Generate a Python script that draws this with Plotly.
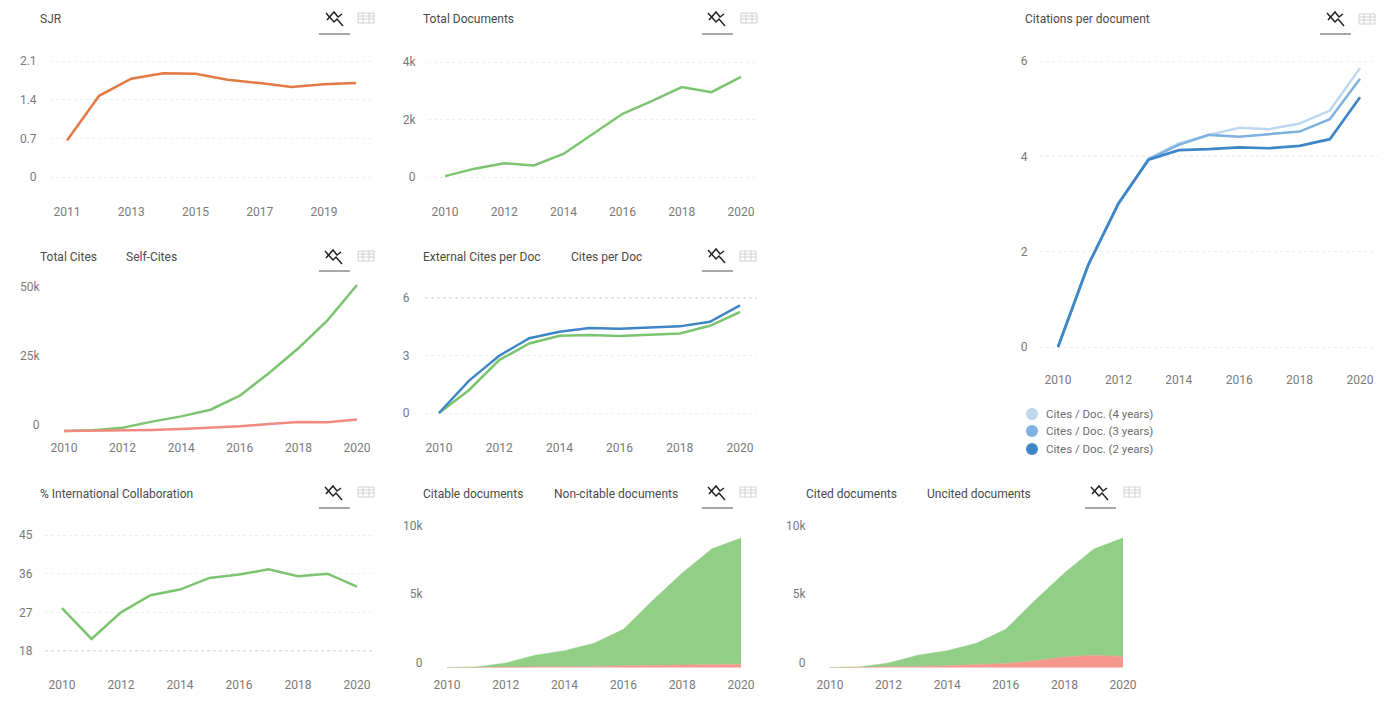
import plotly.graph_objects as go

W, H = 1393, 716
FONT = "Roboto"
TICK = "#7a7a7a"
TITLE = "#4a4a4a"
GREEN = "#7cc46f"
RED = "#f08a80"
ORANGE = "#e37a45"
BLUE2 = "#3f86c6"
BLUE3 = "#7fb1df"
BLUE4 = "#bdd7ef"
FILL_GREEN = "#90cf85"
FILL_RED = "#f5978d"

years = list(range(2010, 2021))
sjr_years = list(range(2011, 2021))
sjr = [0.66, 1.47, 1.78, 1.88, 1.87, 1.76, 1.70, 1.63, 1.68, 1.70]
total_docs = [30, 290, 480, 400, 800, 1500, 2200, 2650, 3130, 2950, 3480]
cites_2y = [0, 1.72, 3.01, 3.93, 4.13, 4.15, 4.19, 4.17, 4.22, 4.36, 5.24]
cites_3y = [0, 1.72, 3.00, 3.94, 4.24, 4.45, 4.41, 4.46, 4.52, 4.78, 5.63]
cites_4y = [0, 1.72, 3.00, 3.95, 4.27, 4.45, 4.60, 4.57, 4.69, 4.96, 5.85]
total_cites = [0, 300, 1200, 3400, 5300, 7700, 12800, 21000, 30000, 40200, 52900]
self_cites = [0, 100, 300, 400, 700, 1200, 1700, 2500, 3300, 3200, 4200]
ext_per_doc = [0, 1.2, 2.76, 3.63, 4.03, 4.07, 4.02, 4.10, 4.15, 4.55, 5.27]
cites_per_doc = [0, 1.69, 2.99, 3.90, 4.24, 4.43, 4.40, 4.45, 4.52, 4.76, 5.62]
intl_collab = [28, 20.8, 27, 31, 32.3, 35, 35.8, 37, 35.4, 36, 33]
all_docs = [0, 40, 330, 900, 1230, 1770, 2800, 4900, 6900, 8650, 9450]
non_citable = [0, 5, 15, 30, 50, 80, 130, 170, 200, 220, 240]
uncited = [0, 10, 40, 80, 120, 200, 300, 500, 770, 900, 800]
citable = [a - b for a, b in zip(all_docs, non_citable)]
cited = [a - b for a, b in zip(all_docs, uncited)]

legend_names = ["Cites / Doc. (4 years)", "Cites / Doc. (3 years)", "Cites / Doc. (2 years)"]
legend_colors = [BLUE4, BLUE3, BLUE2]

fig = go.Figure()
px = lambda x: x / W
py = lambda y: 1 - y / H


def paper_shape(**kw):
    fig.add_shape(xref="paper", yref="paper", **kw)


def text(x, y, s, size=12, color=TITLE):
    fig.add_annotation(x=px(x - 2), y=py(y), xref="paper", yref="paper", text=s, showarrow=False,
                       xanchor="left", yanchor="middle", font=dict(family=FONT, size=size, color=color))


def icons(cx, cy, ux, uy, tx, ty):
    # chart / table toggle
    for pts in ([(-9, -5), (-1, 4), (2, 1), (8, 8)], [(-8, 2), (-1, -6), (3, -1), (7, -4)]):
        d = "M" + " L".join(f"{px(cx + a)},{py(cy + b)}" for a, b in pts)
        paper_shape(type="path", path=d, line=dict(color="#222222", width=1.5))
    paper_shape(type="line", x0=px(ux), x1=px(ux + 31), y0=py(uy), y1=py(uy), line=dict(color="#a8a8a8", width=2))
    c = "#d0d0d0"
    for dy in (-5, -2, 1, 5):
        paper_shape(type="line", x0=px(tx - 8), x1=px(tx + 8), y0=py(ty + dy), y1=py(ty + dy), line=dict(color=c, width=1))
    for dx in (-8, -3, 3, 8):
        paper_shape(type="line", x0=px(tx + dx), x1=px(tx + dx), y0=py(ty - 5), y1=py(ty + 5), line=dict(color=c, width=1))


def panel(n, left, right, top, bottom, xa, xb, ya, yb, yticks, ylabels, xticks, gap, shift=0, dark=()):
    """left..bottom: plot area in pixels; xa/xb, ya/yb: (value, pixel) anchors."""
    sx = (xb[0] - xa[0]) / (xb[1] - xa[1])
    sy = (yb[0] - ya[0]) / (yb[1] - ya[1])
    xr = [xa[0] + (left - xa[1]) * sx, xa[0] + (right - xa[1]) * sx]
    yr = [ya[0] + (bottom - ya[1]) * sy, ya[0] + (top - ya[1]) * sy]
    s = "" if n == 1 else str(n)
    fig.update_layout(**{
        f"xaxis{s}": dict(domain=[px(left), px(right)], range=xr, anchor=f"y{s}", tickmode="array",
                          tickvals=xticks, ticktext=[str(t) for t in xticks], showgrid=False, zeroline=False,
                          showline=False, ticks="", tickfont=dict(family=FONT, size=12, color=TICK)),
        f"yaxis{s}": dict(domain=[py(bottom), py(top)], range=yr, anchor=f"x{s}", tickmode="array",
                          tickvals=yticks, ticktext=ylabels, showgrid=shift == 0, gridcolor="#efefef", griddash="dot",
                          zeroline=False, showline=False, ticks="outside", ticklen=gap, tickcolor="rgba(0,0,0,0)",
                          ticklabelshift=shift, tickfont=dict(family=FONT, size=12, color=TICK)),
    })
    for v in dark:
        fig.add_shape(type="line", xref=f"x{s} domain", yref=f"y{s}", x0=0, x1=1, y0=v, y1=v,
                      line=dict(color="#bdbdbd", width=1, dash="dot"), layer="below")
    return f"x{s}", f"y{s}"


def line(axes, x, y, color, name, width=2.5):
    fig.add_trace(go.Scatter(x=x, y=y, mode="lines", name=name, xaxis=axes[0], yaxis=axes[1],
                             line=dict(color=color, width=width), showlegend=False))


def area(axes, x, y, color, name):
    fig.add_trace(go.Scatter(x=x, y=y, mode="lines", name=name, xaxis=axes[0], yaxis=axes[1],
                             stackgroup=axes[0], fillcolor=color, line=dict(color=color, width=0.5),
                             showlegend=False))


ev2 = years[::2]

a = panel(1, 50, 373, 50, 203, (2011, 67), (2020, 356), (0, 177), (2.1, 61), [0, 0.7, 1.4, 2.1],
          ["0", "0.7", "1.4", "2.1"], sjr_years[::2], 10)
line(a, sjr_years, sjr, ORANGE, "SJR")
text(40, 19, "SJR")
icons(335, 18, 319, 34, 366, 18)

a = panel(2, 428, 757, 50, 203, (2010, 445), (2020, 741), (0, 177), (4000, 62), [0, 2000, 4000],
          ["0", "2k", "4k"], ev2, 9)
line(a, years, total_docs, GREEN, "Total Documents")
text(423, 19, "Total Documents")
icons(717, 18, 702, 34, 749, 18)

a = panel(3, 1040, 1377, 50, 371, (2010, 1058), (2020, 1360), (0, 347), (6, 61), [0, 2, 4, 6],
          ["0", "2", "4", "6"], ev2, 9, dark=[4])
line(a, years, cites_4y, BLUE4, legend_names[0])
line(a, years, cites_3y, BLUE3, legend_names[1])
line(a, years, cites_2y, BLUE2, legend_names[2], 2.7)
text(1025, 19, "Citations per document")
icons(1336, 18, 1320, 34, 1367, 19)
for yy, nm, col in zip([414, 431, 449], legend_names, legend_colors):
    paper_shape(type="circle", x0=px(1026), x1=px(1038), y0=py(yy - 6), y1=py(yy + 6),
                fillcolor=col, line=dict(width=0))
    text(1046, yy, nm, 11.5, "#6e6e6e")

a = panel(4, 46, 373, 280, 439, (2010, 64), (2020, 357), (0, 431), (50000, 293), [0, 25000, 50000],
          ["0", "25k", "50k"], ev2, 3, shift=-6)
line(a, years, total_cites, GREEN, "Total Cites")
line(a, years, self_cites, RED, "Self-Cites")
text(40, 257, "Total Cites")
text(126, 257, "Self-Cites")
icons(334, 256, 319, 271, 366, 256)

a = panel(5, 425, 757, 285, 439, (2010, 439), (2020, 740), (0, 413), (6, 298), [0, 3, 6],
          ["0", "3", "6"], ev2, 12, dark=[3, 6])
line(a, years, ext_per_doc, GREEN, "External Cites per Doc")
line(a, years, cites_per_doc, BLUE2, "Cites per Doc")
text(423, 257, "External Cites per Doc")
text(571, 257, "Cites per Doc")
icons(717, 255, 702, 271, 748, 256)

a = panel(6, 45, 373, 525, 676, (2010, 62), (2020, 357), (18, 651), (45, 535), [18, 27, 36, 45],
          ["18", "27", "36", "45"], ev2, 9, dark=[18])
line(a, years, intl_collab, GREEN, "% International Collaboration")
text(40, 494, "% International Collaboration")
icons(334, 492, 319, 508, 366, 492)

a = panel(7, 428, 757, 520, 676, (2010, 447), (2020, 741), (0, 667.5), (10000, 530.5), [0, 5000, 10000],
          ["0", "5k", "10k"], ev2, 2, shift=-5)
area(a, years, non_citable, FILL_RED, "Non-citable documents")
area(a, years, citable, FILL_GREEN, "Citable documents")
text(423, 494, "Citable documents")
text(554, 494, "Non-citable documents")
icons(717, 492, 702, 508, 748, 492)

a = panel(8, 811, 1140, 520, 676, (2010, 830), (2020, 1123), (0, 667.5), (10000, 530.5), [0, 5000, 10000],
          ["0", "5k", "10k"], ev2, 2, shift=-5)
area(a, years, uncited, FILL_RED, "Uncited documents")
area(a, years, cited, FILL_GREEN, "Cited documents")
text(806, 494, "Cited documents")
text(927, 494, "Uncited documents")
icons(1100, 492, 1085, 508, 1132, 492)

fig.update_layout(width=W, height=H, margin=dict(l=0, r=0, t=0, b=0), paper_bgcolor="white",
                  plot_bgcolor="white", showlegend=False, font=dict(family=FONT), hovermode=False)
fig.write_html("out.html", config={"displayModeBar": False},
               post_script="document.body.style.margin='0';document.body.style.overflow='hidden';")
